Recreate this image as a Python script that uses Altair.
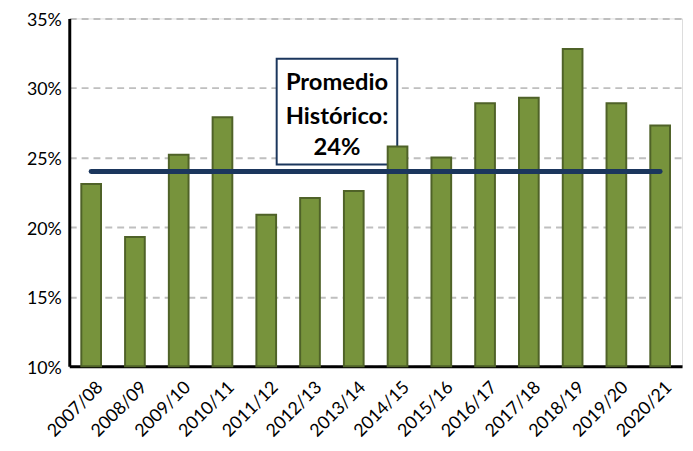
import altair as alt
import pandas as pd

seasons = ["2007/08", "2008/09", "2009/10", "2010/11", "2011/12", "2012/13", "2013/14",
           "2014/15", "2015/16", "2016/17", "2017/18", "2018/19", "2019/20", "2020/21"]
values = [0.231, 0.193, 0.252, 0.279, 0.209, 0.221, 0.226,
          0.258, 0.250, 0.289, 0.293, 0.328, 0.289, 0.273]
avg_value = 0.24
note_lines = ["Promedio", "Histórico:", "24%"]
note_line_y = [0.3034, 0.2794, 0.2568]
y_ticks = [0.10, 0.15, 0.20, 0.25, 0.30, 0.35]

FONT = "Lato"
BAR = "#77933C"
BAR_EDGE = "#4F6228"
NAVY = "#1B365D"

df = pd.DataFrame({"season": seasons, "value": values})
avg_df = pd.DataFrame({"start": [seasons[0]], "end": [seasons[-1]], "avg": [avg_value]})
box_df = pd.DataFrame({"season": ["2013/14"], "top": [0.321], "bottom": [0.245]})
note_df = pd.DataFrame({"season": ["2013/14"] * 3, "y": note_line_y, "text": note_lines})

xscale = alt.Scale(domain=seasons, paddingInner=0.55, paddingOuter=0.275)
yscale = alt.Scale(domain=[0.10, 0.35], nice=False)

x_axis = alt.Axis(title=None, labelAngle=-45, labelFontSize=18, labelFont=FONT,
                  labelColor="#000000", ticks=False, domainColor="#000000",
                  domainWidth=3, labelPadding=12, labelOffset=3, grid=False)
y_axis = alt.Axis(title=None, format=".0%", values=y_ticks, labelFontSize=18,
                  labelFont=FONT, labelColor="#000000", ticks=False,
                  domainColor="#000000", domainWidth=3, labelPadding=8,
                  labelOffset=2,
                  grid=True, gridColor="#BFBFBF", gridDash=[7, 5], gridWidth=2)

box = alt.Chart(box_df).mark_bar(width=122, xOffset=-17, fill="white",
                                 stroke=NAVY, strokeWidth=2).encode(
    x=alt.X("season:N", scale=xscale, axis=x_axis, sort=seasons),
    y=alt.Y("top:Q", scale=yscale, axis=y_axis),
    y2="bottom:Q",
)

bars = alt.Chart(df).mark_bar(color=BAR, stroke=BAR_EDGE, strokeWidth=2).encode(
    x=alt.X("season:N", scale=xscale, sort=seasons),
    y=alt.Y("value:Q", scale=yscale),
    y2=alt.datum(0.10),
)

rule = alt.Chart(avg_df).mark_rule(color=NAVY, strokeWidth=5, strokeCap="round").encode(
    x=alt.X("start:N", scale=xscale),
    x2="end:N",
    y=alt.Y("avg:Q", scale=yscale),
)

text = alt.Chart(note_df).mark_text(font=FONT, fontWeight="bold", fontSize=24,
                                    xOffset=-17, color="#000000",
                                    baseline="middle", align="center").encode(
    x=alt.X("season:N", scale=xscale),
    y=alt.Y("y:Q", scale=yscale),
    text="text:N",
)

chart = alt.layer(box, bars, rule, text).properties(
    width=620, height=352,
    autosize=alt.AutoSizeParams(type="none"),
    padding={"left": 62, "top": 8, "right": 3, "bottom": 75},
).configure_view(stroke=None).configure(background="white")

chart.save("out.html", embed_options={"renderer": "svg", "actions": False})
